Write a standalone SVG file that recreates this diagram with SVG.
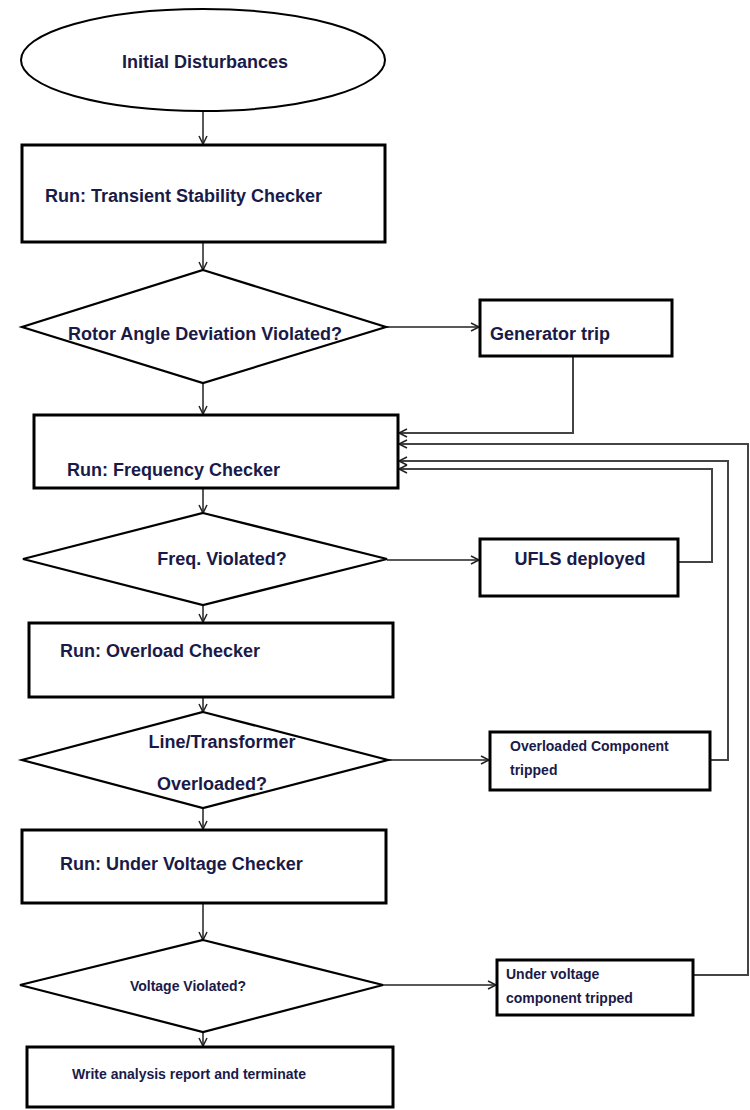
<svg xmlns="http://www.w3.org/2000/svg" width="750" height="1110" viewBox="0 0 750 1110">
<defs>
<marker id="ah" markerUnits="userSpaceOnUse" markerWidth="12" markerHeight="12" refX="9" refY="5" orient="auto">
<path d="M1,1 L9,5 L1,9" fill="none" stroke="#222" stroke-width="1.5"/>
</marker>
<style>
.box{fill:#fff;stroke:#000;stroke-width:3}
.dia{fill:#fff;stroke:#000;stroke-width:2.2}
.ell{fill:#fff;stroke:#000;stroke-width:2}
.t{font-family:"Liberation Sans",Arial,sans-serif;font-weight:bold;font-size:18px;fill:#1a1a48}
.s{font-family:"Liberation Sans",Arial,sans-serif;font-weight:bold;font-size:14px;fill:#1a1a48}
.c{fill:none;stroke:#222;stroke-width:1.5;marker-end:url(#ah)}
.f{fill:none;stroke:#444;stroke-width:2;marker-end:url(#ah)}
</style>
</defs>
<rect width="750" height="1110" fill="#fff"/>
<g id="connectors">
<line class="c" x1="203" y1="111" x2="203" y2="144"/>
<line class="c" x1="203" y1="242" x2="203" y2="270"/>
<line class="c" x1="386" y1="327" x2="479" y2="327"/>
<line class="c" x1="203" y1="383" x2="203" y2="414"/>
<path class="f" d="M573,356 V433 H399"/>
<line class="c" x1="203" y1="488" x2="203" y2="513"/>
<line class="c" x1="387" y1="560" x2="479" y2="560"/>
<path class="f" d="M678,562 H712 V469 H399"/>
<line class="c" x1="203" y1="605" x2="203" y2="622"/>
<line class="c" x1="203" y1="697" x2="203" y2="712"/>
<line class="c" x1="388" y1="760" x2="489" y2="760"/>
<path class="f" d="M710,760 H728 V461 H399"/>
<line class="c" x1="203" y1="808" x2="203" y2="829"/>
<line class="c" x1="203" y1="903" x2="203" y2="940"/>
<line class="c" x1="383" y1="985" x2="496" y2="985"/>
<path class="f" d="M693,975 H748 V444 H399"/>
<line class="c" x1="203" y1="1032" x2="203" y2="1046"/>
</g>
<g id="initial"><ellipse class="ell" cx="203" cy="60" rx="182" ry="51"/><text class="t" x="205" y="68" text-anchor="middle">Initial Disturbances</text></g>
<g id="transient"><rect class="box" x="22" y="145" width="363" height="97"/><text class="t" x="45" y="202">Run: Transient Stability Checker</text></g>
<g id="rotor"><polygon class="dia" points="203,270 386,327 203,383 22,327"/><text class="t" x="205" y="340" text-anchor="middle">Rotor Angle Deviation Violated?</text></g>
<g id="gentrip"><rect class="box" x="480" y="300" width="192" height="56"/><text class="t" x="490" y="340">Generator trip</text></g>
<g id="freqcheck"><rect class="box" x="34" y="415" width="364" height="73"/><text class="t" x="67" y="476">Run: Frequency Checker</text></g>
<g id="freqviol"><polygon class="dia" points="203,513 387,559 203,605 23,559"/><text class="t" x="222" y="565" text-anchor="middle">Freq. Violated?</text></g>
<g id="ufls"><rect class="box" x="480" y="539" width="198" height="57"/><text class="t" x="580" y="565" text-anchor="middle">UFLS deployed</text></g>
<g id="overloadcheck"><rect class="box" x="29" y="623" width="364" height="74"/><text class="t" x="60" y="657">Run: Overload Checker</text></g>
<g id="overloaded"><polygon class="dia" points="203,712 388,760 203,808 22,760"/><text class="t" x="222" y="748" text-anchor="middle">Line/Transformer</text><text class="t" x="212" y="790" text-anchor="middle">Overloaded?</text></g>
<g id="olcomp"><rect class="box" x="490" y="732" width="220" height="58"/><text class="s" x="510" y="751">Overloaded Component</text><text class="s" x="510" y="775">tripped</text></g>
<g id="uvcheck"><rect class="box" x="22" y="830" width="364" height="73"/><text class="t" x="60" y="870">Run: Under Voltage Checker</text></g>
<g id="voltviol"><polygon class="dia" points="203,940 383,985 203,1032 20,985"/><text class="s" x="188" y="991" text-anchor="middle">Voltage Violated?</text></g>
<g id="uvcomp"><rect class="box" x="497" y="960" width="196" height="55"/><text class="s" x="506" y="979">Under voltage</text><text class="s" x="506" y="1003">component tripped</text></g>
<g id="report"><rect class="box" x="27" y="1047" width="366" height="60"/><text class="s" x="72" y="1079">Write analysis report and terminate</text></g>
</svg>
